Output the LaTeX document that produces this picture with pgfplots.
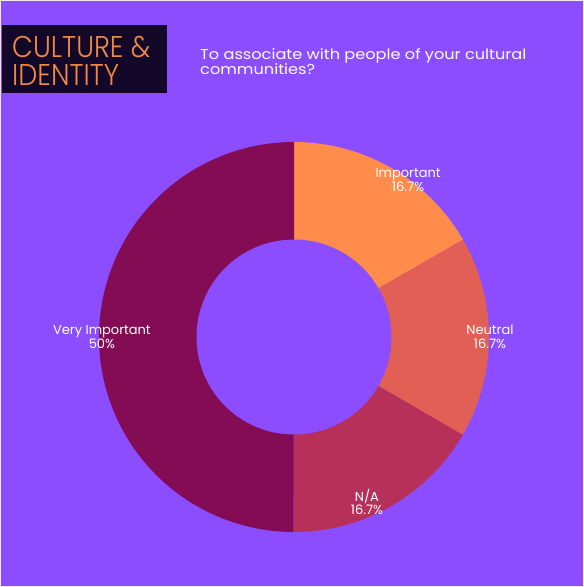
\documentclass[border=0pt]{standalone}
\usepackage{pgfplots}
\pgfplotsset{compat=1.18}
\usepackage{fontspec}
\setmainfont{Poppins}
\newfontfamily\logofont{Poppins Light}
\definecolor{bg}{HTML}{8B4DFF}
\definecolor{cImp}{HTML}{FF8C4B}
\definecolor{cNeu}{HTML}{E15F55}
\definecolor{cNA}{HTML}{B7305A}
\definecolor{cVery}{HTML}{830C55}
\definecolor{logobg}{HTML}{13082A}
\definecolor{logotx}{HTML}{F08A42}
\begin{document}
\begin{tikzpicture}[x=1pt,y=-1pt]
\fill[bg] (0,0) rectangle (584,587);
\draw[white!85!gray, line width=1.2pt] (0.6,0.6) rectangle (583.4,586.4);
\fill[logobg] (2,25) rectangle (167,93);
\node[anchor=west, text=logotx, inner sep=0pt] at (12,64) {\scalebox{0.9}[1]{\logofont\fontsize{30}{26}\selectfont\renewcommand{\arraystretch}{0.9}\begin{tabular}{@{}l@{}}CULTURE \&\\IDENTITY\end{tabular}}};
\node[anchor=north west, text=white, inner sep=0pt] at (200,48) {\scalebox{1.13}[1]{\fontsize{14.3}{15}\selectfont\begin{tabular}{@{}l@{}}To associate with people of your cultural\\communities?\end{tabular}}};
\begin{axis}[
  at={(294pt,-337pt)}, anchor=center,
  scale only axis, width=390pt, height=390pt,
  xmin=-1, xmax=1, ymin=-1, ymax=1,
  hide axis, clip=false,
]
% shares (percent): Important 16.7, Neutral 16.7, N/A 16.7, Very Important 50 (sum 100.1)
% angles = share/100.1*360, clockwise from 90 deg
\addplot[fill=cImp, draw=none, domain=29.94:90, samples=80, variable=\t] ({cos(\t)},{sin(\t)}) -- (axis cs:0,0) -- cycle;
\addplot[fill=cNeu, draw=none, domain=-30.12:29.94, samples=80, variable=\t] ({cos(\t)},{sin(\t)}) -- (axis cs:0,0) -- cycle;
\addplot[fill=cNA, draw=none, domain=-90.18:-30.12, samples=80, variable=\t] ({cos(\t)},{sin(\t)}) -- (axis cs:0,0) -- cycle;
\addplot[fill=cVery, draw=none, domain=90:269.82, samples=160, variable=\t] ({cos(\t)},{sin(\t)}) -- (axis cs:0,0) -- cycle;
\addplot[fill=bg, draw=none, domain=0:360, samples=160, variable=\t] ({0.5*cos(\t)},{0.5*sin(\t)}) -- cycle;
\begin{scope}[every node/.style={align=center, text=white, font=\fontsize{13}{13.5}\selectfont, inner sep=0pt}]
\node at (axis cs:0.585,0.805) {Important\\16.7\%};
\node at (axis cs:1.005,0) {Neutral\\16.7\%};
\node at (axis cs:0.374,-0.846) {N/A\\16.7\%};
\node at (axis cs:-0.985,0) {Very Important\\50\%};
\end{scope}
\end{axis}
\end{tikzpicture}
\end{document}
